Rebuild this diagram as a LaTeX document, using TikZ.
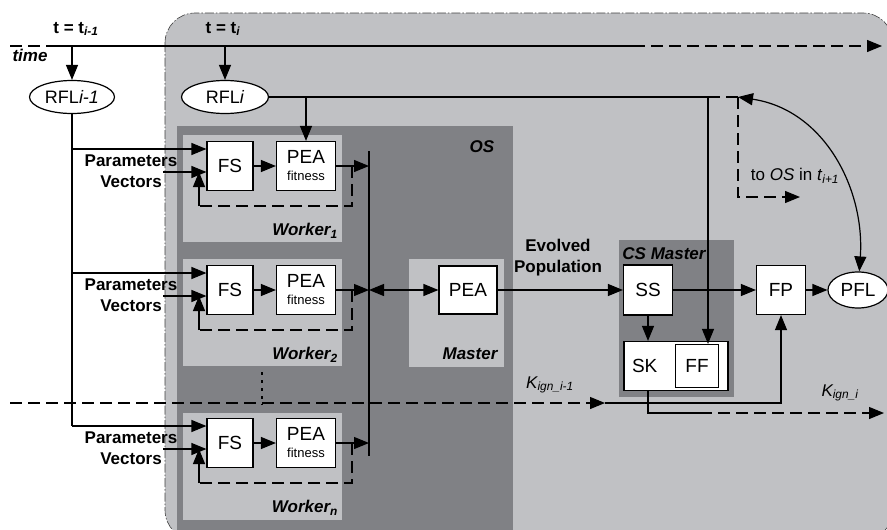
\documentclass[tikz,border=0pt]{standalone}
\usepackage{fontspec}
\setmainfont{Liberation Sans}
\usepackage{tikz}
\usetikzlibrary{shapes.geometric, arrows.meta}
\definecolor{lightpanel}{RGB}{192,193,196}
\definecolor{darkpanel}{RGB}{128,129,133}
\tikzstyle{line} = [line width=1.2pt]
\tikzstyle{arrow} = [line width=1.2pt,-{Triangle[length=15pt,width=12pt]}]
\tikzstyle{darrow} = [line width=1.2pt,{Triangle[length=15pt,width=12pt]}-{Triangle[length=15pt,width=12pt]}]
\tikzstyle{dline} = [line width=1.2pt,dash pattern=on 12pt off 6pt]
\tikzstyle{box} = [draw, fill=white, line width=1.2pt, inner sep=0pt, minimum width=46pt, minimum height=49pt, font=\fontsize{19}{17}\selectfont]
\tikzstyle{peabox} = [box, minimum width=59pt, align=center]
\tikzstyle{lead} = [draw, ellipse, fill=white, line width=1.2pt, inner sep=0pt, font=\fontsize{18}{20}\selectfont]
\tikzstyle{lbl} = [font=\fontsize{17}{21}\selectfont\bfseries, align=center]
\tikzstyle{tag} = [font=\fontsize{17}{20}\selectfont\bfseries\itshape]
\tikzstyle{txt} = [font=\fontsize{17}{20}\selectfont]
\newcommand{\subit}[1]{\textsubscript{\textit{#1}}}

\begin{document}
\begin{tikzpicture}[x=1pt,y=-1pt]
\useasboundingbox (0,0) rectangle (887,530);

% panels
\draw[fill=lightpanel, draw=black!75, line width=0.6pt, dash pattern=on 9pt off 2pt on 1.5pt off 2pt, rounded corners=30pt] (165,13) rectangle (893,540);
\fill[darkpanel] (177,126) rectangle (513,545);
\foreach \y in {135,259,413}
  \fill[lightpanel] (183,\y) rectangle (342,\y+107);
\fill[lightpanel] (409,259) rectangle (504,367);
\fill[darkpanel] (619,240) rectangle (734,397);

% time axis
\coordinate (t0) at (10,46);
\coordinate (t1) at (52,46);
\coordinate (t2) at (633,46);
\coordinate (tend) at (882,46);
\draw[dline] (t0) -- (t1);
\draw[line] (t1) -- (t2);
\draw[dline,arrow] (t2) -- (tend);
\node[lbl] (tA) at (76,29) {t = t\subit{i-1}};
\node[lbl] (tB) at (223,29) {t = t\subit{i}};
\node[tag] (time) at (30,55) {time};

\node[lead, minimum width=85pt, minimum height=33pt] (rflA) at (72,97) {RFL\textit{i-1}};
\node[lead, minimum width=87pt, minimum height=33pt] (rflB) at (225,97) {RFL\textit{i}};
\draw[arrow] (rflA |- t1) -- (rflA);
\draw[arrow] (rflB |- t1) -- (rflB);

% workers
\coordinate (busT) at (369,151);
\coordinate (busB) at (369,456);
\draw[line] (busT) -- (busB);
\foreach \n/\y/\w in {1/166/1, 2/290/2, 3/443/n} {
  \node[box] (fs\n) at (230,\y) {FS};
  \node[peabox, right of=fs\n, node distance=76pt] (pea\n) {PEA\\{\fontsize{13}{15}\selectfont fitness}};
  \node[tag] (wl\n) at (305,\y+65) {Worker\subit{\w}};
  \node[lbl] (pv\n) at (131,\y+5) {Parameters\\Vectors};
  \coordinate (in\n) at ([yshift=17pt]fs\n.west);
  \coordinate (vin\n) at ([yshift=-6pt]fs\n.west);
  \coordinate (fb\n) at (199,\y+40);
  \draw[arrow] (fs\n) -- (pea\n);
  \draw[arrow] (pea\n) -- (pea\n -| busT);
  \draw[arrow] ([xshift=-43pt]vin\n) -- (vin\n);
  \draw[dline] (352,\y) -- (352,\y+40) -- (fb\n);
  \draw[arrow] (fb\n) -- (vin\n -| fb\n);
}
\draw[line] (rflA) -- (rflA |- in3);
\foreach \n in {1,2,3}
  \draw[arrow] (rflA |- in\n) -- (in\n);
\draw[line width=2pt, dash pattern=on 3pt off 5pt] (262,372) -- (262,405);

% master
\node[tag] (os) at (482,147) {OS};
\node[box, minimum width=58pt, minimum height=48pt] (mpea) at (468,290) {PEA};
\node[tag] (ml) at (470,354) {Master};
\draw[darrow] (pea2 -| busT) -- (mpea);

% CS master
\node[tag] (csl) at (664,254) {CS Master};
\node[box, minimum width=49pt, minimum height=50pt] (ss) at (648,290) {SS};
\node[box, minimum width=104pt, minimum height=49pt, text width=88pt, inner xsep=8pt, align=left] (sk) at (676,366) {SK};
\node[box, minimum width=43pt, minimum height=43pt] (ff) at (697,366) {FF};
\node[box, minimum width=49pt, minimum height=49pt] (fp) at (781,290) {FP};
\node[lead, minimum width=60pt, minimum height=36pt, font=\fontsize{19}{20}\selectfont] (pfl) at (858,290) {PFL};

\draw[arrow] (mpea) -- (ss);
\node[lbl] (evo) at (558,258) {Evolved\\Population};
\draw[arrow] (ss) -- (ss |- sk.north);
\draw[arrow] (ss) -- (fp);
\draw[arrow] (fp) -- (pfl);

% RFL i feedback
\coordinate (rx) at (708,97);
\coordinate (fbk) at (738,97);
\coordinate (osn) at (800,197);
\draw[arrow] (rflB -| pea1) -- (pea1);
\draw[line] (rflB) -- (rx);
\draw[arrow] (rx) -- (rx |- ff.north);
\draw[dline] (rx) -- (fbk);
\draw[dline,arrow] (fbk) |- (osn);
\node[txt] (tos) at (795,176) {to \textit{OS} in \textit{t}\subit{i+1}};
\draw[darrow] (fbk) .. controls (825,110) and (865,190) .. (pfl);

% ignition keys
\coordinate (kA) at (10,403);
\coordinate (kB) at (605,403);
\coordinate (kD) at (700,413);
\coordinate (kE) at (884,413);
\draw[dline,arrow] (kA) -- (kB);
\draw[arrow] (kB) -| (fp);
\draw[line] (ss |- sk.south) |- (kD);
\draw[dline,arrow] (kD) -- (kE);
\node[txt, font=\fontsize{17}{20}\selectfont\itshape] (k1) at (550,385) {K\textsubscript{ign\_i-1}};
\node[txt, font=\fontsize{17}{20}\selectfont\itshape] (k2) at (840,393) {K\textsubscript{ign\_i}};
\end{tikzpicture}
\end{document}
